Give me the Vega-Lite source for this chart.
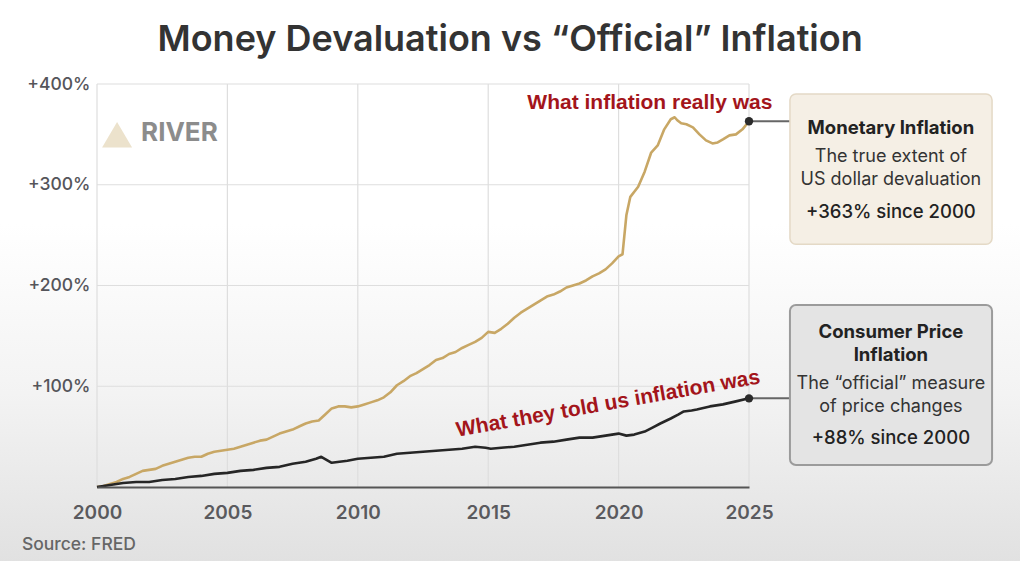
{
  "$schema": "https://vega.github.io/schema/vega-lite/v6.json",
  "autosize": {"type": "none"},
  "width": 652,
  "height": 403,
  "padding": {"left": 97, "top": 84, "right": 271, "bottom": 74},
  "data": {"values": [{"note": "annotation"}]},
  "datasets": {
    "series": [
      {"series": "Monetary Inflation", "year": 2000.0, "pct": 0},
      {"series": "Monetary Inflation", "year": 2000.25, "pct": 1},
      {"series": "Monetary Inflation", "year": 2000.5, "pct": 3},
      {"series": "Monetary Inflation", "year": 2000.75, "pct": 5},
      {"series": "Monetary Inflation", "year": 2001.0, "pct": 8},
      {"series": "Monetary Inflation", "year": 2001.25, "pct": 10},
      {"series": "Monetary Inflation", "year": 2001.5, "pct": 13},
      {"series": "Monetary Inflation", "year": 2001.75, "pct": 16},
      {"series": "Monetary Inflation", "year": 2002.0, "pct": 17},
      {"series": "Monetary Inflation", "year": 2002.25, "pct": 18},
      {"series": "Monetary Inflation", "year": 2002.5, "pct": 21},
      {"series": "Monetary Inflation", "year": 2002.75, "pct": 23},
      {"series": "Monetary Inflation", "year": 2003.0, "pct": 25},
      {"series": "Monetary Inflation", "year": 2003.25, "pct": 27},
      {"series": "Monetary Inflation", "year": 2003.5, "pct": 29},
      {"series": "Monetary Inflation", "year": 2003.75, "pct": 30},
      {"series": "Monetary Inflation", "year": 2004.0, "pct": 30},
      {"series": "Monetary Inflation", "year": 2004.25, "pct": 33},
      {"series": "Monetary Inflation", "year": 2004.5, "pct": 35},
      {"series": "Monetary Inflation", "year": 2004.75, "pct": 36},
      {"series": "Monetary Inflation", "year": 2005.0, "pct": 37},
      {"series": "Monetary Inflation", "year": 2005.25, "pct": 38},
      {"series": "Monetary Inflation", "year": 2005.5, "pct": 40},
      {"series": "Monetary Inflation", "year": 2005.75, "pct": 42},
      {"series": "Monetary Inflation", "year": 2006.0, "pct": 44},
      {"series": "Monetary Inflation", "year": 2006.25, "pct": 46},
      {"series": "Monetary Inflation", "year": 2006.5, "pct": 47},
      {"series": "Monetary Inflation", "year": 2006.75, "pct": 50},
      {"series": "Monetary Inflation", "year": 2007.0, "pct": 53},
      {"series": "Monetary Inflation", "year": 2007.25, "pct": 55},
      {"series": "Monetary Inflation", "year": 2007.5, "pct": 57},
      {"series": "Monetary Inflation", "year": 2007.75, "pct": 60},
      {"series": "Monetary Inflation", "year": 2008.0, "pct": 63},
      {"series": "Monetary Inflation", "year": 2008.25, "pct": 65},
      {"series": "Monetary Inflation", "year": 2008.5, "pct": 66},
      {"series": "Monetary Inflation", "year": 2008.75, "pct": 72},
      {"series": "Monetary Inflation", "year": 2009.0, "pct": 78},
      {"series": "Monetary Inflation", "year": 2009.25, "pct": 80},
      {"series": "Monetary Inflation", "year": 2009.5, "pct": 80},
      {"series": "Monetary Inflation", "year": 2009.75, "pct": 79},
      {"series": "Monetary Inflation", "year": 2010.0, "pct": 80},
      {"series": "Monetary Inflation", "year": 2010.25, "pct": 82},
      {"series": "Monetary Inflation", "year": 2010.5, "pct": 84},
      {"series": "Monetary Inflation", "year": 2010.75, "pct": 86},
      {"series": "Monetary Inflation", "year": 2011.0, "pct": 89},
      {"series": "Monetary Inflation", "year": 2011.25, "pct": 94},
      {"series": "Monetary Inflation", "year": 2011.5, "pct": 101},
      {"series": "Monetary Inflation", "year": 2011.75, "pct": 105},
      {"series": "Monetary Inflation", "year": 2012.0, "pct": 110},
      {"series": "Monetary Inflation", "year": 2012.25, "pct": 113},
      {"series": "Monetary Inflation", "year": 2012.5, "pct": 117},
      {"series": "Monetary Inflation", "year": 2012.75, "pct": 121},
      {"series": "Monetary Inflation", "year": 2013.0, "pct": 126},
      {"series": "Monetary Inflation", "year": 2013.25, "pct": 128},
      {"series": "Monetary Inflation", "year": 2013.5, "pct": 132},
      {"series": "Monetary Inflation", "year": 2013.75, "pct": 134},
      {"series": "Monetary Inflation", "year": 2014.0, "pct": 138},
      {"series": "Monetary Inflation", "year": 2014.25, "pct": 141},
      {"series": "Monetary Inflation", "year": 2014.5, "pct": 144},
      {"series": "Monetary Inflation", "year": 2014.75, "pct": 148},
      {"series": "Monetary Inflation", "year": 2015.0, "pct": 154},
      {"series": "Monetary Inflation", "year": 2015.25, "pct": 153},
      {"series": "Monetary Inflation", "year": 2015.5, "pct": 157},
      {"series": "Monetary Inflation", "year": 2015.75, "pct": 162},
      {"series": "Monetary Inflation", "year": 2016.0, "pct": 168},
      {"series": "Monetary Inflation", "year": 2016.25, "pct": 173},
      {"series": "Monetary Inflation", "year": 2016.5, "pct": 177},
      {"series": "Monetary Inflation", "year": 2016.75, "pct": 181},
      {"series": "Monetary Inflation", "year": 2017.0, "pct": 185},
      {"series": "Monetary Inflation", "year": 2017.25, "pct": 189},
      {"series": "Monetary Inflation", "year": 2017.5, "pct": 191},
      {"series": "Monetary Inflation", "year": 2017.75, "pct": 194},
      {"series": "Monetary Inflation", "year": 2018.0, "pct": 198},
      {"series": "Monetary Inflation", "year": 2018.25, "pct": 200},
      {"series": "Monetary Inflation", "year": 2018.5, "pct": 202},
      {"series": "Monetary Inflation", "year": 2018.75, "pct": 205},
      {"series": "Monetary Inflation", "year": 2019.0, "pct": 209},
      {"series": "Monetary Inflation", "year": 2019.25, "pct": 212},
      {"series": "Monetary Inflation", "year": 2019.5, "pct": 216},
      {"series": "Monetary Inflation", "year": 2019.75, "pct": 222},
      {"series": "Monetary Inflation", "year": 2020.0, "pct": 229},
      {"series": "Monetary Inflation", "year": 2020.15, "pct": 231},
      {"series": "Monetary Inflation", "year": 2020.3, "pct": 270},
      {"series": "Monetary Inflation", "year": 2020.45, "pct": 288},
      {"series": "Monetary Inflation", "year": 2020.75, "pct": 298},
      {"series": "Monetary Inflation", "year": 2021.0, "pct": 313},
      {"series": "Monetary Inflation", "year": 2021.25, "pct": 332},
      {"series": "Monetary Inflation", "year": 2021.5, "pct": 339},
      {"series": "Monetary Inflation", "year": 2021.75, "pct": 355},
      {"series": "Monetary Inflation", "year": 2022.0, "pct": 365},
      {"series": "Monetary Inflation", "year": 2022.15, "pct": 367},
      {"series": "Monetary Inflation", "year": 2022.25, "pct": 364},
      {"series": "Monetary Inflation", "year": 2022.4, "pct": 361},
      {"series": "Monetary Inflation", "year": 2022.6, "pct": 360},
      {"series": "Monetary Inflation", "year": 2022.85, "pct": 357},
      {"series": "Monetary Inflation", "year": 2023.1, "pct": 350},
      {"series": "Monetary Inflation", "year": 2023.35, "pct": 344},
      {"series": "Monetary Inflation", "year": 2023.6, "pct": 341},
      {"series": "Monetary Inflation", "year": 2023.8, "pct": 342},
      {"series": "Monetary Inflation", "year": 2024.0, "pct": 345},
      {"series": "Monetary Inflation", "year": 2024.25, "pct": 349},
      {"series": "Monetary Inflation", "year": 2024.5, "pct": 350},
      {"series": "Monetary Inflation", "year": 2024.75, "pct": 355},
      {"series": "Monetary Inflation", "year": 2025.0, "pct": 363},
      {"series": "Consumer Price Inflation", "year": 2000.0, "pct": 0},
      {"series": "Consumer Price Inflation", "year": 2000.5, "pct": 2},
      {"series": "Consumer Price Inflation", "year": 2001.0, "pct": 4},
      {"series": "Consumer Price Inflation", "year": 2001.5, "pct": 5},
      {"series": "Consumer Price Inflation", "year": 2002.0, "pct": 5},
      {"series": "Consumer Price Inflation", "year": 2002.5, "pct": 7},
      {"series": "Consumer Price Inflation", "year": 2003.0, "pct": 8},
      {"series": "Consumer Price Inflation", "year": 2003.5, "pct": 10},
      {"series": "Consumer Price Inflation", "year": 2004.0, "pct": 11},
      {"series": "Consumer Price Inflation", "year": 2004.5, "pct": 13},
      {"series": "Consumer Price Inflation", "year": 2005.0, "pct": 14},
      {"series": "Consumer Price Inflation", "year": 2005.5, "pct": 16},
      {"series": "Consumer Price Inflation", "year": 2006.0, "pct": 17},
      {"series": "Consumer Price Inflation", "year": 2006.5, "pct": 19},
      {"series": "Consumer Price Inflation", "year": 2007.0, "pct": 20},
      {"series": "Consumer Price Inflation", "year": 2007.5, "pct": 23},
      {"series": "Consumer Price Inflation", "year": 2008.0, "pct": 25},
      {"series": "Consumer Price Inflation", "year": 2008.4, "pct": 28},
      {"series": "Consumer Price Inflation", "year": 2008.6, "pct": 30},
      {"series": "Consumer Price Inflation", "year": 2008.8, "pct": 27},
      {"series": "Consumer Price Inflation", "year": 2009.0, "pct": 24},
      {"series": "Consumer Price Inflation", "year": 2009.3, "pct": 25},
      {"series": "Consumer Price Inflation", "year": 2009.6, "pct": 26},
      {"series": "Consumer Price Inflation", "year": 2010.0, "pct": 28},
      {"series": "Consumer Price Inflation", "year": 2010.5, "pct": 29},
      {"series": "Consumer Price Inflation", "year": 2011.0, "pct": 30},
      {"series": "Consumer Price Inflation", "year": 2011.5, "pct": 33},
      {"series": "Consumer Price Inflation", "year": 2012.0, "pct": 34},
      {"series": "Consumer Price Inflation", "year": 2012.5, "pct": 35},
      {"series": "Consumer Price Inflation", "year": 2013.0, "pct": 36},
      {"series": "Consumer Price Inflation", "year": 2013.5, "pct": 37},
      {"series": "Consumer Price Inflation", "year": 2014.0, "pct": 38},
      {"series": "Consumer Price Inflation", "year": 2014.5, "pct": 40},
      {"series": "Consumer Price Inflation", "year": 2014.9, "pct": 39},
      {"series": "Consumer Price Inflation", "year": 2015.1, "pct": 38},
      {"series": "Consumer Price Inflation", "year": 2015.5, "pct": 39},
      {"series": "Consumer Price Inflation", "year": 2016.0, "pct": 40},
      {"series": "Consumer Price Inflation", "year": 2016.5, "pct": 42},
      {"series": "Consumer Price Inflation", "year": 2017.0, "pct": 44},
      {"series": "Consumer Price Inflation", "year": 2017.5, "pct": 45},
      {"series": "Consumer Price Inflation", "year": 2018.0, "pct": 47},
      {"series": "Consumer Price Inflation", "year": 2018.5, "pct": 49},
      {"series": "Consumer Price Inflation", "year": 2019.0, "pct": 49},
      {"series": "Consumer Price Inflation", "year": 2019.5, "pct": 51},
      {"series": "Consumer Price Inflation", "year": 2020.0, "pct": 53},
      {"series": "Consumer Price Inflation", "year": 2020.3, "pct": 51},
      {"series": "Consumer Price Inflation", "year": 2020.6, "pct": 52},
      {"series": "Consumer Price Inflation", "year": 2021.0, "pct": 55},
      {"series": "Consumer Price Inflation", "year": 2021.3, "pct": 59},
      {"series": "Consumer Price Inflation", "year": 2021.6, "pct": 63},
      {"series": "Consumer Price Inflation", "year": 2022.0, "pct": 68},
      {"series": "Consumer Price Inflation", "year": 2022.3, "pct": 72},
      {"series": "Consumer Price Inflation", "year": 2022.5, "pct": 75},
      {"series": "Consumer Price Inflation", "year": 2022.8, "pct": 76},
      {"series": "Consumer Price Inflation", "year": 2023.0, "pct": 77},
      {"series": "Consumer Price Inflation", "year": 2023.5, "pct": 80},
      {"series": "Consumer Price Inflation", "year": 2024.0, "pct": 82},
      {"series": "Consumer Price Inflation", "year": 2024.5, "pct": 85},
      {"series": "Consumer Price Inflation", "year": 2025.0, "pct": 88}
    ],
    "xgrid": [{"g": 2000}, {"g": 2005}, {"g": 2010}, {"g": 2015}, {"g": 2020}, {"g": 2025}],
    "ygrid": [{"g": 100}, {"g": 200}, {"g": 300}, {"g": 400}]
  },
  "layer": [
    {
      "mark": {
        "type": "rect",
        "fill": {
          "gradient": "linear",
          "x1": 0, "y1": 0, "x2": 0, "y2": 1,
          "stops": [
            {"offset": 0, "color": "#ffffff"},
            {"offset": 0.4, "color": "#ffffff"},
            {"offset": 0.7, "color": "#f3f3f3"},
            {"offset": 1, "color": "#e1e1e1"}
          ]
        }
      },
      "encoding": {
        "x": {
          "datum": 1996,
          "type": "quantitative",
          "scale": {"domain": [2000, 2025], "nice": false, "zero": false},
          "axis": {
            "title": null,
            "values": [2000, 2005, 2010, 2015, 2020, 2025],
            "format": "d",
            "grid": false,
            "ticks": false,
            "domain": true,
            "domainColor": "#555555",
            "domainWidth": 2.2,
            "labelFont": "Inter",
            "labelFontSize": 19,
            "labelFontWeight": 600,
            "labelColor": "#5a5a5e",
            "labelPadding": 16,
            "labelFlush": false,
            "zindex": 1
          }
        },
        "x2": {"datum": 2036},
        "y": {
          "datum": -75,
          "type": "quantitative",
          "scale": {"domain": [0, 400], "nice": false, "zero": true},
          "axis": {
            "title": null,
            "values": [100, 200, 300, 400],
            "labelExpr": "'+' + datum.value + '%'",
            "grid": false,
            "ticks": false,
            "domain": false,
            "labelFont": "Inter",
            "labelFontSize": 17.5,
            "labelFontWeight": 500,
            "labelColor": "#55555a",
            "labelPadding": 7,
            "zindex": 1
          }
        },
        "y2": {"datum": 485}
      }
    },
    {
      "data": {"name": "xgrid"},
      "mark": {"type": "rule", "color": "#dedede", "strokeWidth": 1.2},
      "encoding": {
        "x": {"field": "g", "type": "quantitative"},
        "y": {"datum": 0, "type": "quantitative"},
        "y2": {"datum": 400}
      }
    },
    {
      "data": {"name": "ygrid"},
      "mark": {"type": "rule", "color": "#dedede", "strokeWidth": 1.2},
      "encoding": {
        "y": {"field": "g", "type": "quantitative"},
        "x": {"datum": 2000, "type": "quantitative"},
        "x2": {"datum": 2025}
      }
    },
    {
      "data": {"name": "series"},
      "mark": {"type": "line", "strokeWidth": 2.6, "strokeJoin": "round"},
      "encoding": {
        "x": {"field": "year", "type": "quantitative"},
        "y": {"field": "pct", "type": "quantitative"},
        "color": {
          "field": "series",
          "type": "nominal",
          "scale": {"domain": ["Monetary Inflation", "Consumer Price Inflation"], "range": ["#c8a765", "#262626"]},
          "legend": null
        }
      }
    },
    {
      "mark": {"type": "rule", "color": "#666666", "strokeWidth": 2},
      "encoding": {
        "x": {"datum": 2025, "type": "quantitative"},
        "x2": {"datum": 2026.6},
        "y": {"datum": 363, "type": "quantitative"}
      }
    },
    {
      "mark": {"type": "rule", "color": "#666666", "strokeWidth": 2},
      "encoding": {
        "x": {"datum": 2025, "type": "quantitative"},
        "x2": {"datum": 2026.6},
        "y": {"datum": 88, "type": "quantitative"}
      }
    },
    {
      "data": {"name": "series"},
      "transform": [{"filter": "datum.year == 2025"}],
      "mark": {"type": "point", "filled": true, "color": "#2b2b2b", "size": 70, "opacity": 1},
      "encoding": {
        "x": {"field": "year", "type": "quantitative"},
        "y": {"field": "pct", "type": "quantitative"}
      }
    },
    {
      "mark": {"type": "rect", "fill": "#f5efe5", "stroke": "#e4d9c6", "strokeWidth": 1.5, "cornerRadius": 6},
      "encoding": {
        "x": {"datum": 2026.57, "type": "quantitative"},
        "x2": {"datum": 2034.32},
        "y": {"datum": 241, "type": "quantitative"},
        "y2": {"datum": 390}
      }
    },
    {
      "mark": {"type": "rect", "fill": "#e4e4e4", "stroke": "#9b9b9b", "strokeWidth": 2, "cornerRadius": 6},
      "encoding": {
        "x": {"datum": 2026.57, "type": "quantitative"},
        "x2": {"datum": 2034.32},
        "y": {"datum": 21.8, "type": "quantitative"},
        "y2": {"datum": 180.6}
      }
    },
    {
      "mark": {"type": "text", "font": "Inter", "fontSize": 36, "fontWeight": 600, "color": "#333333", "align": "center", "baseline": "middle"},
      "encoding": {
        "x": {"datum": 2015.84, "type": "quantitative"},
        "y": {"datum": 443.7, "type": "quantitative"},
        "text": {"value": "Money Devaluation vs “Official” Inflation"}
      }
    },
    {
      "mark": {"type": "text", "font": "Inter", "fontSize": 18.5, "fontWeight": 700, "color": "#222222", "align": "center", "baseline": "middle"},
      "encoding": {
        "x": {"datum": 2030.44, "type": "quantitative"},
        "y": {"datum": 356, "type": "quantitative"},
        "text": {"value": "Monetary Inflation"}
      }
    },
    {
      "mark": {"type": "text", "font": "Inter", "fontSize": 18, "fontWeight": 400, "color": "#333333", "align": "center", "baseline": "middle", "lineHeight": 23},
      "encoding": {
        "x": {"datum": 2030.44, "type": "quantitative"},
        "y": {"datum": 327.5, "type": "quantitative"},
        "text": {"value": ["The true extent of", "US dollar devaluation"]}
      }
    },
    {
      "mark": {"type": "text", "font": "Inter", "fontSize": 18.5, "fontWeight": 500, "color": "#222222", "align": "center", "baseline": "middle"},
      "encoding": {
        "x": {"datum": 2030.44, "type": "quantitative"},
        "y": {"datum": 273, "type": "quantitative"},
        "text": {"value": "+363% since 2000"}
      }
    },
    {
      "mark": {"type": "text", "font": "Inter", "fontSize": 18.5, "fontWeight": 700, "color": "#222222", "align": "center", "baseline": "middle", "lineHeight": 23},
      "encoding": {
        "x": {"datum": 2030.44, "type": "quantitative"},
        "y": {"datum": 153.8, "type": "quantitative"},
        "text": {"value": ["Consumer Price", "Inflation"]}
      }
    },
    {
      "mark": {"type": "text", "font": "Inter", "fontSize": 18, "fontWeight": 400, "color": "#333333", "align": "center", "baseline": "middle", "lineHeight": 23},
      "encoding": {
        "x": {"datum": 2030.44, "type": "quantitative"},
        "y": {"datum": 102.2, "type": "quantitative"},
        "text": {"value": ["The “official” measure", "of price changes"]}
      }
    },
    {
      "mark": {"type": "text", "font": "Inter", "fontSize": 18.5, "fontWeight": 500, "color": "#222222", "align": "center", "baseline": "middle"},
      "encoding": {
        "x": {"datum": 2030.44, "type": "quantitative"},
        "y": {"datum": 48.6, "type": "quantitative"},
        "text": {"value": "+88% since 2000"}
      }
    },
    {
      "mark": {"type": "text", "font": "Liberation Sans", "fontSize": 21, "fontWeight": "bold", "color": "#a3151b", "align": "center", "baseline": "middle"},
      "encoding": {
        "x": {"datum": 2021.2, "type": "quantitative"},
        "y": {"datum": 381, "type": "quantitative"},
        "text": {"value": "What inflation really was"}
      }
    },
    {
      "mark": {"type": "text", "font": "Liberation Sans", "fontSize": 21, "fontWeight": "bold", "color": "#a3151b", "align": "center", "baseline": "middle", "angle": 350},
      "encoding": {
        "x": {"datum": 2019.6, "type": "quantitative"},
        "y": {"datum": 82.4, "type": "quantitative"},
        "text": {"value": "What they told us inflation was"}
      }
    },
    {
      "mark": {"type": "point", "filled": true, "color": "#ece2cc", "opacity": 1, "size": 900, "shape": "M0,-0.9L-1,0.8L1,0.8Z"},
      "encoding": {
        "x": {"datum": 2000.77, "type": "quantitative"},
        "y": {"datum": 349, "type": "quantitative"}
      }
    },
    {
      "mark": {"type": "text", "font": "Inter", "fontSize": 26, "fontWeight": 700, "color": "#8c8c8c", "align": "left", "baseline": "middle"},
      "encoding": {
        "x": {"datum": 2001.69, "type": "quantitative"},
        "y": {"datum": 351, "type": "quantitative"},
        "text": {"value": "RIVER"}
      }
    },
    {
      "mark": {"type": "text", "font": "Inter", "fontSize": 17.5, "fontWeight": 500, "color": "#666666", "align": "left", "baseline": "middle"},
      "encoding": {
        "x": {"datum": 1997.12, "type": "quantitative"},
        "y": {"datum": -57.6, "type": "quantitative"},
        "text": {"value": "Source: FRED"}
      }
    }
  ],
  "config": {
    "view": {"stroke": null},
    "background": "#ffffff"
  }
}
